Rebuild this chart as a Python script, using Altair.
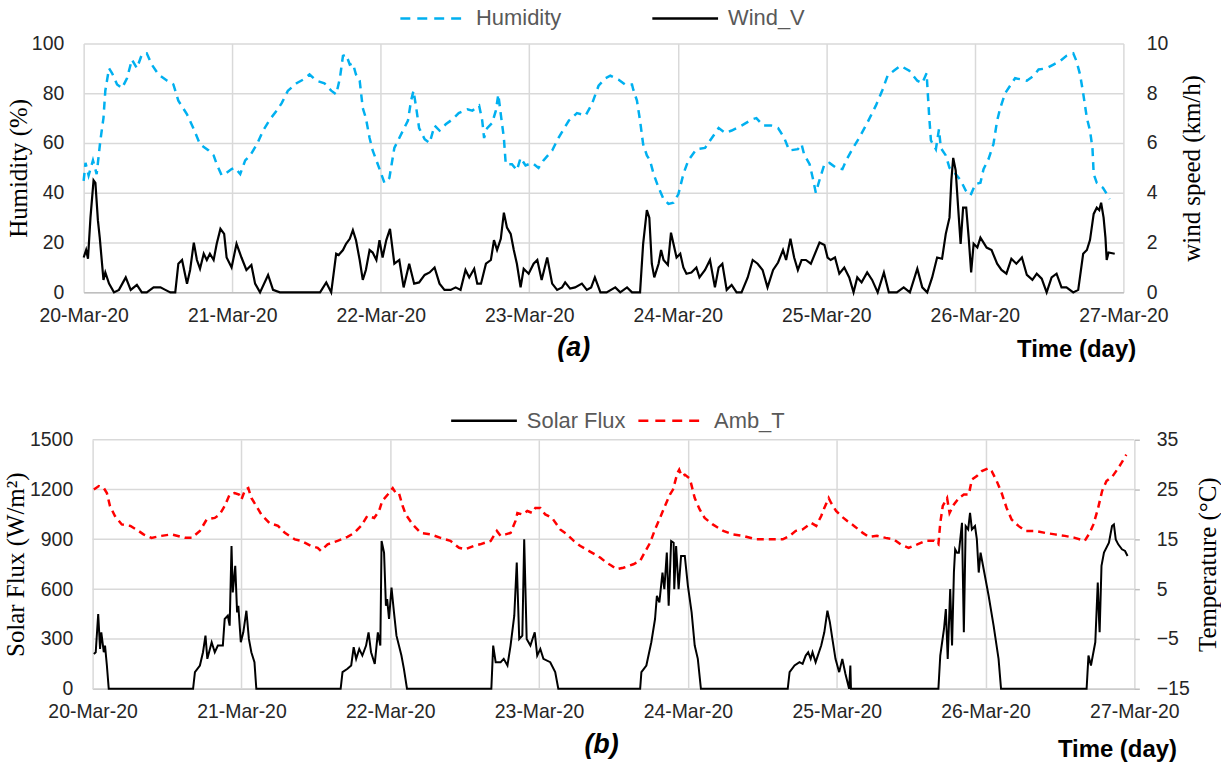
import altair as alt
import pandas as pd

# ---------------- data (hours since 20-Mar-20 00:00) ----------------
day_labels = ["20-Mar-20", "21-Mar-20", "22-Mar-20", "23-Mar-20",
              "24-Mar-20", "25-Mar-20", "26-Mar-20", "27-Mar-20"]

hum_hours = [0, 0.3, 0.8, 1.5, 2.1, 2.7, 3.2, 3.5, 4.1, 4.6, 5.4, 6.2, 7, 7.8, 8.6, 9.4, 10.2, 11, 12.1, 13.5,
             14.5, 15.3, 16.7, 17.8, 18.8, 20.2, 21, 21.5, 22.3, 23.1, 23.9, 24.5, 25.3, 26.1, 26.9, 28, 29, 30.1,
             31.2, 32, 33, 34.4, 35.5, 36.5, 37.6, 38.9, 40, 40.8, 41.4, 41.9, 42.4, 43, 43.5, 44, 44.6, 45.1,
             45.6, 46.2, 46.7, 47.3, 48.1, 48.6, 49.4, 50.2, 51, 51.8, 52.4, 52.9, 53.3, 53.8, 54.2, 55.1, 55.9,
             56.7, 57.5, 58.5, 59.6, 60.6, 62, 62.8, 63.9, 64.4, 64.7, 65.2, 66, 66.6, 67, 67.4, 67.9, 68.2,
             69.2, 70, 70.6, 71.4, 72.5, 73.5, 74.3, 75.7, 76.7, 78.4, 79.7, 81.1, 82.1, 83.2, 84.3, 85.1, 86.4,
             87.5, 88.6, 88.8, 89.4, 89.9, 90.4, 91, 91.5, 92.1, 92.9, 93.7, 94.5, 95.3, 96.1, 96.9, 97.7, 99,
             100.4, 101.5, 102.6, 103.7, 104.7, 106.3, 108, 108.7, 109.8, 111.1, 112.2, 113.2, 114, 115.4, 116,
             116.4, 117.3, 117.8, 118.3, 119, 119.7, 120.5, 121.6, 122.6, 123.2, 124.2, 125.3, 126.6, 128, 129.1,
             129.9, 130.9, 132, 133.4, 134.7, 135.5, 136.2, 136.6, 136.9, 137.7, 138.2, 138.5, 139.3, 139.9,
             140.9, 141.7, 142.5, 143.3, 144.1, 144.9, 145.4, 146.2, 147, 147.6, 148.1, 148.9, 149.7, 150.5,
             151.6, 152.4, 153.5, 154.3, 155.6, 156.7, 157.8, 158.8, 159.9, 160.4, 161, 161.5, 162.1, 162.6,
             163, 163.2, 163.7, 164.7, 165.8]
hum_values = [44.8, 52, 47, 53, 47.5, 61, 70, 81, 90, 88, 83.5, 82, 86, 93.5, 90, 95.5, 96, 91.5, 87.5, 85,
              83.5, 77, 71.5, 65.5, 59.5, 57, 55, 51.5, 47, 48, 49.5, 50, 47.5, 53, 55, 59.5, 65, 69.5,
              73, 76, 81, 84, 85.5, 87.5, 85, 84, 81, 79.5, 86, 95, 95.5, 91.5, 92, 87.5, 85, 74,
              70, 62, 57, 53, 47.5, 44, 46, 58, 62, 66, 69, 77, 81, 73, 66, 61.5, 60,
              67, 65, 67.5, 69.5, 72, 73.5, 73, 75, 69, 62, 66, 68, 73, 79.5, 71.5, 62, 51.5,
              51.5, 49, 54, 51, 52, 50, 53, 57, 62, 69, 72, 71, 75.5, 83, 86, 87, 85.5,
              83.5, 83.5, 81.5, 77, 69, 59.5, 55, 53, 47.5, 42, 37.5, 35.5, 36, 39.5, 47.5, 53, 57.5,
              58, 62, 66, 64, 65, 67, 69.5, 70, 67, 67, 66, 62, 57, 57.5, 59.5,
              55.5, 51.5, 46, 40, 46, 51.5, 52, 50, 49.5, 53, 57.5, 62, 68, 75, 81.5,
              87, 89, 91, 89, 85, 84, 88, 71.5, 61, 57.5, 65.5, 58, 55, 50,
              47.5, 45, 41, 39, 43.5, 44, 49.5, 53.5, 59.5, 69, 74, 80, 83, 86,
              85.5, 85, 87, 89.5, 90, 91.5, 93, 95, 96, 93, 87.5, 80, 70, 65,
              58, 47.5, 44, 42, 37.5]

wind_hours = [0, 0.4, 0.7, 1.1, 1.6, 1.9, 2.3, 2.6, 3.2, 3.5, 4.1, 4.9, 5.7, 6.8, 7.6, 8.6, 9.4, 10.2, 11.3,
              12.4, 13.2, 14, 14.8, 15.3, 15.9, 16.7, 17.2, 17.8, 18.3, 18.8, 19.4, 19.9, 20.4, 21, 21.5, 22.1,
              22.7, 23.1, 23.9, 24.7, 25.5, 26.3, 27.1, 27.7, 28.5, 29.8, 30.6, 31.7, 35, 38.2, 39.2, 40, 40.8,
              41.2, 41.9, 42.4, 43, 43.5, 44, 44.6, 45.1, 45.6, 46.2, 46.7, 47.3, 47.8, 48.3, 48.9, 49.5, 50.2,
              51, 51.7, 52.6, 53.4, 54.2, 55.1, 55.9, 56.7, 57.5, 58.3, 59.3, 60.1, 60.9, 61.7, 62.3, 63.1, 63.6,
              64.2, 65, 65.8, 66.3, 66.8, 67.4, 67.9, 68.4, 69, 69.5, 70, 70.6, 71.1, 71.9, 72.7, 73.3, 74, 74.9,
              75.7, 76.5, 77.3, 77.8, 78.6, 79.4, 80.5, 81.3, 82, 82.6, 83.5, 84.5, 85.9, 86.7, 87.8, 88.6, 89.9,
              90.4, 91, 91.4, 91.8, 92.2, 92.9, 93.3, 93.7, 94.4, 94.9, 95.3, 95.8, 96.4, 96.9, 97.4, 98.2, 99,
              99.5, 100.4, 101.2, 102, 102.6, 103.2, 103.9, 104.7, 105.5, 106.3, 107.3, 108.1, 108.9, 109.7,
              110.5, 111.4, 112.2, 113, 113.5, 114.2, 114.8, 115.4, 116, 116.7, 117.5, 118.9, 119.7, 120.2,
              120.7, 121.4, 122.1, 122.9, 123.7, 124.4, 125, 125.7, 126.6, 127.4, 128.3, 129.3, 130.1, 131.4,
              132.5, 133.5, 134.7, 135.5, 136.3, 137.1, 137.9, 138.7, 139.3, 139.9, 140.2, 140.5, 140.9, 141.3,
              141.7, 142.1, 142.6, 143, 143.4, 143.8, 144.4, 144.9, 145.4, 145.9, 146.7, 147.6, 148.3, 149.1,
              149.9, 150.7, 151.6, 152.4, 153.3, 154, 154.8, 155.6, 156.4, 157.2, 158, 158.8, 159.9, 160.7,
              161.5, 162.1, 162.6, 163.2, 163.7, 164.1, 164.4, 164.8, 165.1, 165.3, 165.6, 166.6]
wind_values = [1.4, 1.7, 1.35, 3.0, 4.5, 4.4, 2.9, 2.2, 0.5, 0.8, 0.35, 0, 0.1, 0.6, 0.1, 0.3, 0, 0, 0.2,
               0.2, 0.1, 0, 0, 1.15, 1.3, 0.35, 0.9, 2.0, 1.3, 0.95, 1.55, 1.3, 1.55, 1.3, 1.95, 2.55,
               2.35, 1.4, 1.0, 1.95, 1.4, 0.9, 1.1, 0.35, 0, 0.7, 0.1, 0, 0, 0, 0.4, 0, 1.55,
               1.5, 1.7, 1.95, 2.15, 2.5, 2.1, 1.3, 0.5, 0.9, 1.7, 1.6, 1.3, 2.1, 1.4, 2.1, 2.55, 1.15,
               1.3, 0.2, 1.15, 0.35, 0.4, 0.7, 0.8, 1.0, 0.35, 0.1, 0.1, 0.2, 0.1, 0.9, 0.6, 0.95, 0.35,
               0.35, 1.15, 1.3, 2.1, 1.7, 2.15, 3.2, 2.6, 2.35, 1.7, 1.15, 0.2, 0.95, 0.75, 1.15, 1.3, 0.5, 1.4,
               0.35, 0.1, 0.2, 0.4, 0.15, 0.2, 0.35, 0.1, 0.2, 0.6, 0, 0, 0.2, 0, 0.2, 0, 0,
               1.95, 3.3, 3.0, 1.15, 0.6, 1.15, 1.7, 1.3, 1.1, 2.4, 1.95, 1.4, 1.55, 1.0, 0.75, 0.8, 1.0,
               0.6, 0.9, 1.3, 0.2, 1.0, 1.15, 0.1, 0.3, 0, 0, 0.6, 1.3, 1.15, 0.9,
               0.2, 0.9, 1.2, 1.7, 1.3, 2.15, 1.4, 0.9, 1.3, 1.3, 1.15, 2.0, 1.9, 1.4,
               1.3, 1.4, 0.75, 1.0, 0.6, 0, 0.6, 0.4, 0.8, 0.5, 0, 0.8, 0, 0,
               0.2, 0, 0.95, 0.2, 0, 0.6, 1.4, 1.35, 2.35, 3.0, 4.5, 5.4, 4.9, 3.4,
               1.95, 3.4, 3.4, 2.2, 0.8, 1.95, 1.8, 2.2, 2.0, 1.8, 1.7, 1.15, 0.9, 0.75,
               1.35, 1.15, 1.4, 0.7, 0.5, 0.75, 0.55, 0, 0.6, 0.75, 0.2, 0.2, 0, 0.1,
               1.55, 1.7, 2.1, 3.15, 3.4, 3.3, 3.6, 3.0, 2.2, 1.3, 1.6, 1.55]

solar_hours = [0.2, 0.5, 0.9, 1.2, 1.4, 1.8, 2.0, 2.3, 2.6, 16.2, 16.5, 17.3, 17.8, 18.2, 18.5, 19.2, 19.7,
               20.2, 21.0, 21.3, 21.8, 22.1, 22.4, 22.6, 23, 23.3, 23.5, 23.9, 24.3, 24.8, 25.2, 25.6, 26.1,
               26.4, 40.0, 40.3, 41.1, 41.7, 42.1, 42.5, 43, 43.5, 44.1, 44.5, 44.9, 45.5, 46, 46.4, 46.6, 47,
               47.3, 47.5, 47.8, 48.2, 48.6, 49, 49.4, 49.8, 50.2, 50.7, 64.3, 64.6, 65, 65.8, 66.3, 66.9,
               67.4, 68, 68.4, 68.8, 69.3, 69.6, 70, 70.6, 71.3, 71.7, 72.2, 72.7, 73.8, 74.6, 75.1, 88.3,
               88.5, 89.3, 90.1, 90.7, 91, 91.4, 91.9, 92.2, 92.6, 92.9, 93.3, 93.7, 93.8, 94.1, 94.5, 94.9,
               95.5, 96, 96.6, 97.1, 97.6, 98.1, 112.1, 112.4, 113.2, 114, 114.5, 115, 115.4, 115.8, 116.1,
               116.6, 117.5, 118, 118.5, 118.9, 119.3, 119.8, 120.4, 120.9, 121.4, 122, 122.2, 122.3, 136.4,
               136.7, 137.3, 137.6, 137.9, 138.3, 138.6, 138.9, 139.1, 139.4, 139.7, 140.2, 140.5, 140.8,
               141.2, 141.5, 141.8, 142.3, 142.6, 142.9, 143.2, 143.7, 144.5, 145.3, 146.1, 146.5, 160.3,
               160.6, 161, 161.3, 161.7, 162.1, 162.3, 162.4, 162.7, 163.1, 163.9, 164.4, 164.7, 165, 165.4,
               166, 166.5, 166.9]
solar_values = [210, 220, 450, 240, 340, 220, 260, 140, 0, 0, 100, 140, 220, 320, 180, 280, 220,
                260, 260, 420, 440, 380, 860, 580, 740, 460, 500, 280, 340, 470, 300, 220, 160,
                0, 0, 100, 120, 140, 250, 180, 240, 200, 260, 340, 220, 150, 340, 260, 890, 820,
                500, 540, 420, 610, 460, 320, 260, 200, 120, 0, 0, 260, 160, 160, 180, 140,
                260, 440, 760, 300, 320, 900, 300, 260, 340, 200, 240, 180, 160, 100, 0, 0,
                100, 140, 280, 420, 560, 520, 700, 600, 820, 500, 890, 880, 600, 860, 600, 800,
                800, 620, 460, 260, 180, 0, 0, 100, 140, 160, 150, 200, 220, 180, 220,
                160, 260, 340, 470, 400, 300, 180, 100, 180, 90, 0, 140, 0, 0,
                200, 360, 480, 180, 600, 260, 700, 840, 820, 820, 1000, 340, 980,
                960, 1060, 960, 980, 900, 700, 820, 720, 560, 380, 180, 0, 0,
                200, 140, 200, 280, 640, 420, 340, 740, 820, 880, 980, 990, 900, 870,
                840, 830, 800]

temp_hours = [0.2, 1, 1.8, 2.3, 2.8, 3.6, 4.7, 6.1, 7.4, 8.2, 9.5, 11.1, 12.7, 14.9, 16, 17.3, 18.4, 19.7,
              20.5, 21.3, 22.1, 22.9, 23.6, 24, 24.6, 25.1, 25.6, 26.4, 27.2, 28.5, 29.9, 31, 32.6, 33.6,
              35.2, 36.3, 36.8, 37.9, 39.5, 41.1, 42.2, 43.3, 44.3, 45.4, 46.2, 46.7, 47.6, 48.4, 48.9, 49.4,
              50, 50.5, 51.6, 52.9, 54.5, 56.1, 57.7, 59.1, 60.1, 61.5, 62.5, 64.2, 64.7, 65.2, 65.8, 66.6,
              67.4, 68.2, 68.5, 69.3, 70.1, 70.9, 71.4, 72.2, 73, 74.1, 75.4, 76.5, 77.6, 78.6, 80, 81,
              81.9, 82.9, 83.7, 84.5, 85.6, 87.2, 88.3, 89, 89.9, 90.7, 91.5, 92.3, 93.1, 93.6, 94.3, 94.6,
              95, 95.5, 96.2, 96.5, 97.1, 97.9, 98.7, 100, 101.7, 103.3, 104.9, 107, 109.7, 111.3, 112.4,
              113.4, 114.5, 115.9, 116.7, 117.5, 118, 118.7, 119.1, 119.9, 120.7, 121.7, 122.8, 124.2, 125.2,
              126.5, 127.9, 129.2, 130.3, 131.6, 133, 134.3, 135.7, 136.4, 136.7, 137.1, 137.8, 138.2, 138.9,
              139.7, 140.5, 141.3, 141.8, 142.6, 143.4, 144.5, 145, 145.8, 146.6, 147.4, 148.2, 149.3, 150.4,
              152, 153.6, 155.2, 156.8, 158.4, 160, 160.8, 161.4, 162.1, 162.8, 163.5, 164.5, 165.4, 165.9,
              166.7]
temp_values = [25, 25.7, 25.3, 24.3, 21.7, 19.7, 18, 17.7, 16.7, 16, 15.3, 15.7, 16, 15.3, 15.3, 16.7, 19, 19.3,
               20, 21.7, 24, 24.3, 24, 23, 25, 25.3, 23.3, 21.7, 20, 18.3, 17.7, 16.3, 15, 14.7,
               13.7, 13.3, 12.7, 14, 14.7, 15.5, 16.3, 17.7, 19.7, 19.3, 20.7, 22.7, 24, 25.3, 24.3, 24.3,
               21.7, 20, 18, 16.3, 16, 15.3, 14.7, 13.3, 13, 13.7, 14, 14.7, 15.7, 16.7, 15.7, 16,
               16.3, 18.7, 20.3, 20, 20.7, 20.3, 21.3, 21.3, 20, 19.3, 17, 16, 14.7, 13.7, 12.7, 12,
               11.3, 10.3, 9.7, 9, 9.3, 10, 10.7, 12.3, 14.3, 17, 19.3, 21.7, 24, 25, 28.3, 29,
               27.7, 28, 27.3, 26.3, 23.3, 21, 19.3, 18, 16.7, 16, 15.7, 15, 15, 15, 15.7,
               16.7, 17, 18.3, 17.7, 19.7, 21.3, 23.3, 22.3, 20.7, 19.7, 18.7, 17.7, 16.3, 15.5,
               15.7, 15.3, 15, 14, 13.3, 14, 14.7, 14.7, 14, 18.3, 21.7, 23.3, 20.3, 22,
               23.3, 24, 24, 27, 27.7, 28.7, 29.3, 28.7, 26.7, 24.3, 21.3, 19, 17.7, 16.7,
               16.7, 16.3, 16, 15.7, 15.3, 14.7, 16.3, 18, 21, 24.7, 26.7, 27.7, 29.3, 30.3,
               32]

hum_ticks = [0, 20, 40, 60, 80, 100]
wind_ticks = [0, 2, 4, 6, 8, 10]
solar_ticks = [0, 300, 600, 900, 1200, 1500]
temp_ticks = [-15, -5, 5, 15, 25, 35]

legend_top = ["Humidity", "Wind_V"]
legend_bottom = ["Solar Flux", "Amb_T"]
panel_tags = ["(a)", "(b)"]
x_title = "Time (day)"

# ---------------- styling ----------------
FONT = "Liberation Sans"
SERIF = "Liberation Serif"
GRID = "#d9d9d9"
BLUE = "#00B0F0"
RED = "#FF0000"
LBL = 19.5
PH = 250        # plot height of each panel
W_TOP = 1044    # top plot width
SHIFT = 9       # bottom panel starts this many px further right
W_BOT = 1046    # bottom plot width

day_ticks = [24 * i for i in range(len(day_labels))]
label_expr = "[" + ",".join("'%s'" % d for d in day_labels) + "][round(datum.value / 24)]"


def x_enc(rng=None):
    sc = dict(domain=[0, 168], nice=False, zero=False)
    if rng:
        sc["range"] = rng
    return alt.X("h:Q", scale=alt.Scale(**sc),
                 axis=alt.Axis(values=day_ticks, labelExpr=label_expr, title=None, grid=True,
                               gridColor=GRID, gridWidth=1.5, domain=True, domainColor="#bfbfbf",
                               domainWidth=1.5, ticks=False, labelFont=FONT, labelFontSize=LBL,
                               labelColor="#262626", labelPadding=14, labelFlush=False,
                               labelOverlap=False))


def y_axis(vals, title, orient, grid, lpad, tpad, ticks=False):
    kw = {}
    if orient == "right":
        kw["titleBaseline"] = "top"
    if ticks:
        kw.update(ticks=True, tickSize=5, tickColor="#bfbfbf", tickWidth=1.5)
    else:
        kw["ticks"] = False
    return alt.Axis(values=vals, title=title, orient=orient, grid=grid, gridColor=GRID, gridWidth=1.5,
                    domain=False, format="d", labelFont=FONT, labelFontSize=LBL,
                    labelColor="#262626", labelPadding=lpad, titleFont=SERIF, titleFontSize=25,
                    titleFontWeight="normal", titleColor="black", titlePadding=tpad, titleAngle=270,
                    **kw)


one = pd.DataFrame({"k": [0]})


def legend_item(x0, y0, color, dash, label, width=2.5):
    kw = dict(color=color, strokeWidth=width)
    if dash:
        kw["strokeDash"] = [10, 7]
    r = alt.Chart(one).mark_rule(**kw).encode(x=alt.value(x0), x2=alt.value(x0 + 66), y=alt.value(y0))
    t = alt.Chart(one).mark_text(align="left", baseline="middle", font=FONT, fontSize=22,
                                 color="#595959").encode(x=alt.value(x0 + 76), y=alt.value(y0),
                                                         text=alt.value(label))
    return [r, t]


def annot(x, y, txt, italic):
    return alt.Chart(one).mark_text(align="center", baseline="middle", font=FONT,
                                    fontSize=27 if italic else 24, fontWeight="bold",
                                    fontStyle="italic" if italic else "normal",
                                    color="black").encode(x=alt.value(x), y=alt.value(y),
                                                          text=alt.value(txt))


# ---------------- panel (a) ----------------
hum = pd.DataFrame({"h": hum_hours, "v": hum_values})
wind = pd.DataFrame({"h": wind_hours, "v": wind_values})

hum_line = alt.Chart(hum).mark_line(color=BLUE, strokeWidth=2.5, strokeDash=[8, 6]).encode(
    x=x_enc(),
    y=alt.Y("v:Q", scale=alt.Scale(domain=[0, 100], nice=False),
            axis=y_axis(hum_ticks, "Humidity (%)", "left", True, 20, 0)))
wind_line = alt.Chart(wind).mark_line(color="black", strokeWidth=2.2).encode(
    x=x_enc(),
    y=alt.Y("v:Q", scale=alt.Scale(domain=[0, 10], nice=False),
            axis=y_axis(wind_ticks, "wind speed (km/h)", "right", False, 23, 12)))

top = alt.layer(
    hum_line, wind_line,
    *legend_item(318, -25, BLUE, True, legend_top[0]),
    *legend_item(571, -25, "black", False, legend_top[1]),
    annot(492, PH + 56, panel_tags[0], True),
    annot(997, PH + 58, x_title, False),
).resolve_scale(y="independent").properties(width=W_TOP, height=PH)

# ---------------- panel (b) ----------------
solar = pd.DataFrame({"h": solar_hours, "v": solar_values})
temp = pd.DataFrame({"h": temp_hours, "v": temp_values})
solar_grid = pd.DataFrame({"v": solar_ticks})
x_rng = [SHIFT, SHIFT + W_BOT]

solar_axis = y_axis(solar_ticks, "Solar Flux (W/m²)", "left", False, 11, 1)
solar_y = alt.Y("v:Q", scale=alt.Scale(domain=[0, 1500], nice=False), axis=solar_axis)

grid_rules = alt.Chart(solar_grid).mark_rule(color=GRID, strokeWidth=1.5).encode(
    y=solar_y, x=alt.value(SHIFT), x2=alt.value(SHIFT + W_BOT))
solar_line = alt.Chart(solar).mark_line(color="black", strokeWidth=2).encode(
    x=x_enc(x_rng), y=solar_y)
temp_line = alt.Chart(temp).mark_line(color=RED, strokeWidth=2.5, strokeDash=[7, 5]).encode(
    x=x_enc(x_rng),
    y=alt.Y("v:Q", scale=alt.Scale(domain=[-15, 35], nice=False),
            axis=y_axis(temp_ticks, "Temperature (°C)", "right", False, 17, 6, ticks=True)))

S = SHIFT
bottom = alt.layer(
    alt.layer(grid_rules, solar_line),
    temp_line,
    *legend_item(360 + S, -19, "black", False, legend_bottom[0]),
    *legend_item(548 + S, -19, RED, True, legend_bottom[1]),
    annot(511 + S, PH + 57, panel_tags[1], True),
    annot(1029 + S, PH + 62, x_title, False),
).resolve_scale(y="independent").properties(width=SHIFT + W_BOT, height=PH)

chart = alt.concat(top, bottom, columns=1, spacing=48).properties(
    padding={"left": 3, "top": 6, "right": 0, "bottom": 0},
    background="white",
).configure_view(stroke=None)

chart.save("out.html", embed_options={"renderer": "svg", "actions": False})
